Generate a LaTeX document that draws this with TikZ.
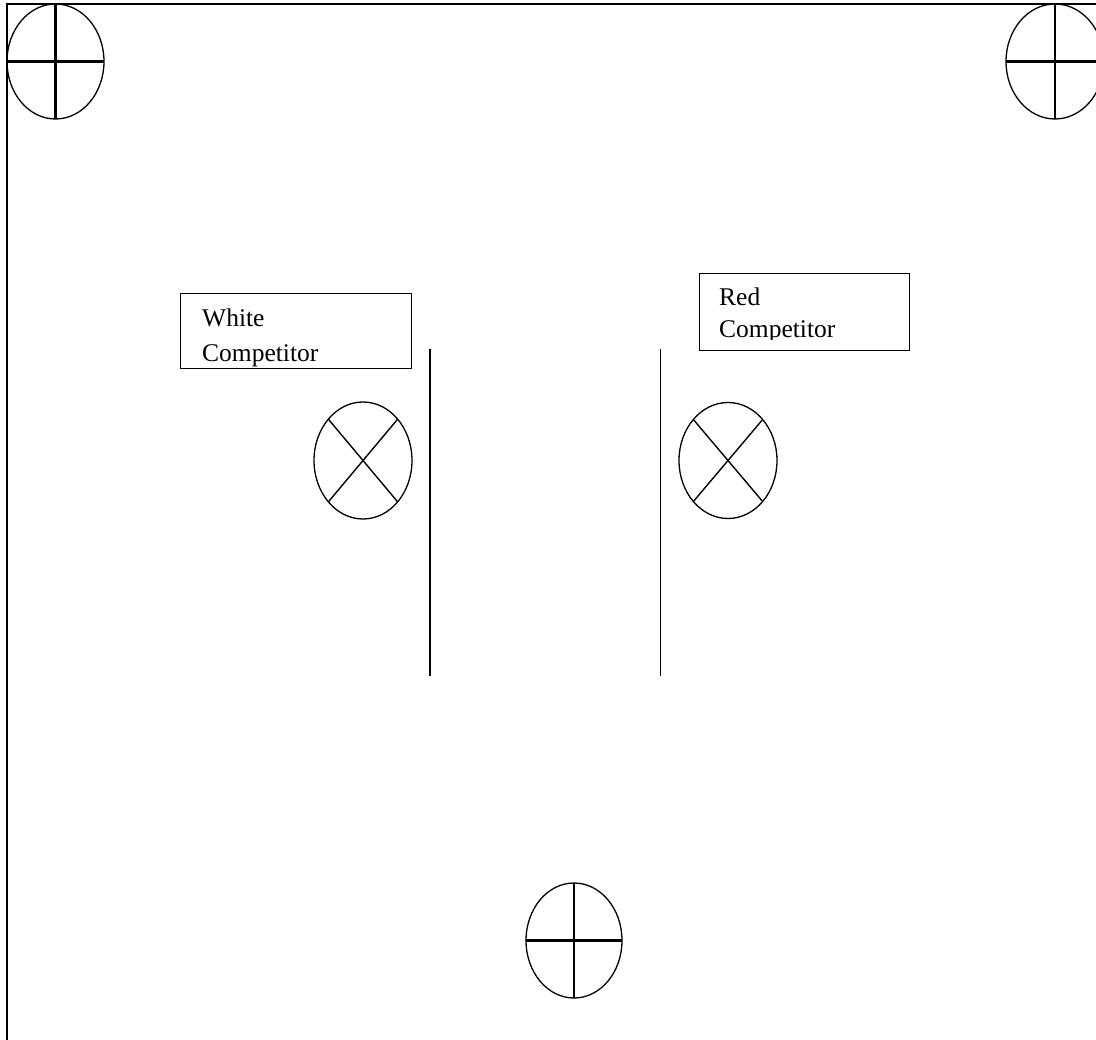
\documentclass[tikz,border=0pt]{standalone}
\usepackage{fontspec}
\setmainfont{Liberation Serif}
\begin{document}
\begin{tikzpicture}[x=1pt,y=-1pt,
  frame/.style={line width=1.5pt},
  ring/.style={line width=1.3pt},
  cross/.style={line width=2.4pt},
  xline/.style={line width=1.4pt},
  divider/.style={line width=1.8pt},
  tbox/.style={draw,line width=1.3pt},
  label/.style={anchor=base west,inner sep=0pt,
    font=\fontsize{25.5pt}{34pt}\selectfont}]
\useasboundingbox (0,0) rectangle (1096,1040);
% frame (left and top edges)
\coordinate (fbl) at (7,1040);
\coordinate (ftl) at (7,4);
\coordinate (ftr) at (1096,4);
\draw[frame] (fbl) -- (ftl) -- (ftr);
% top-left plus marker
\draw[ring] (55.5,61.5) ellipse [x radius=48.5, y radius=57.5];
\draw[cross] (55.5,4) -- (55.5,119);
\draw[cross] (7,61.5) -- (104,61.5);
% top-right plus marker
\draw[ring] (1055,61.5) ellipse [x radius=49, y radius=57.5];
\draw[cross] (1055,4) -- (1055,119);
\draw[cross] (1006,61.5) -- (1104,61.5);
% bottom plus marker
\draw[ring] (574,940.5) ellipse [x radius=48, y radius=57.5];
\draw[cross] (574,883) -- (574,998);
\draw[cross] (526,940.5) -- (622,940.5);
% white competitor box
\node[tbox,anchor=north west,minimum width=231pt,minimum height=75pt,inner sep=0pt] (wbox) at (180,293) {};
\begin{scope}
\clip (180,293) rectangle (411,367);
\node[label] (wtext1) at (202,327) {White};
\node[label] (wtext2) at (202,361.5) {Competitor};
\end{scope}
% red competitor box
\node[tbox,anchor=north west,minimum width=210pt,minimum height=77pt,inner sep=0pt] (rbox) at (699,273) {};
\begin{scope}
\clip (699,273) rectangle (909,340);
\node[label] (rtext1) at (719,306) {Red};
\node[label] (rtext2) at (719,338) {Competitor};
\end{scope}
% dividers
\coordinate (d1t) at (430,349);
\coordinate (d1b) at (430,676);
\coordinate (d2t) at (660.5,349);
\coordinate (d2b) at (660.5,676);
\draw[divider] (d1t) -- (d1b);
\draw[divider] (d2t) -- (d2b);
% white X marker
\draw[ring] (363,460.5) ellipse [x radius=49, y radius=58.5];
\draw[xline] (363,460.5) ++(45:49 and 58.5) -- ++(-69.3,-82.7);
\draw[xline] (363,460.5) ++(135:49 and 58.5) -- ++(69.3,-82.7);
% red X marker
\draw[ring] (728,460.5) ellipse [x radius=49, y radius=58];
\draw[xline] (728,460.5) ++(45:49 and 58) -- ++(-69.3,-82);
\draw[xline] (728,460.5) ++(135:49 and 58) -- ++(69.3,-82);
\end{tikzpicture}
\end{document}
